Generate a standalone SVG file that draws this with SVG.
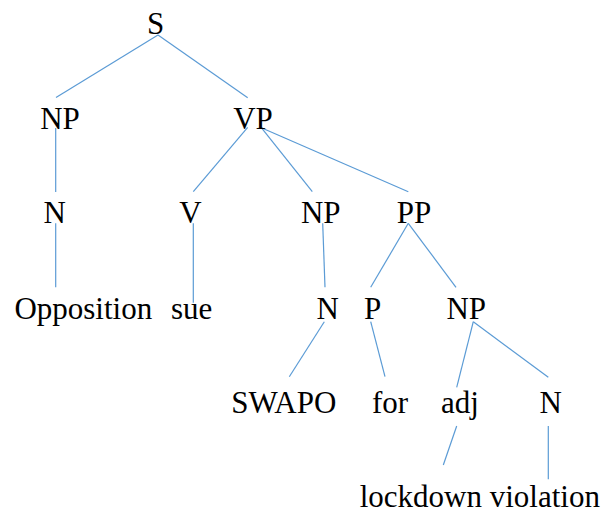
<svg xmlns="http://www.w3.org/2000/svg" width="608" height="513" viewBox="0 0 608 513">
<style>
text{font-family:'Liberation Serif','Tinos','Times New Roman','DejaVu Serif','Noto Serif',serif;font-size:31px;fill:#000;text-anchor:middle}
.c line{stroke:#5B9BD5;stroke-width:1.2;fill:none}
</style>
<rect width="608" height="513" fill="#fff"/>
<g class="c" id="connectors">
<line x1="158" y1="35" x2="56" y2="97.5"/>
<line x1="158" y1="35" x2="247.7" y2="97.7"/>
<line x1="55.7" y1="128" x2="55.7" y2="192"/>
<line x1="247.7" y1="127.3" x2="193.3" y2="191.7"/>
<line x1="261.3" y1="127.7" x2="312.3" y2="191.7"/>
<line x1="261.3" y1="127.7" x2="408.3" y2="191.7"/>
<line x1="55.7" y1="223.3" x2="55.7" y2="287.3"/>
<line x1="193.3" y1="223.3" x2="193.3" y2="302.7"/>
<line x1="322.7" y1="223.3" x2="325" y2="287.3"/>
<line x1="408.3" y1="223.3" x2="370.7" y2="287.3"/>
<line x1="408.3" y1="223.3" x2="456" y2="287.3"/>
<line x1="324.3" y1="321.7" x2="289.3" y2="376.7"/>
<line x1="370.7" y1="321.7" x2="385" y2="376.7"/>
<line x1="473.3" y1="321.7" x2="456.7" y2="387.3"/>
<line x1="473.3" y1="321.7" x2="548.3" y2="377.3"/>
<line x1="456.7" y1="426" x2="443.3" y2="465"/>
<line x1="548.3" y1="426" x2="548.3" y2="479.3"/>
</g>
<g font-family="Liberation Serif, serif">
<g id="n-S"><text x="155.5" y="34">S</text></g>
<g id="n-NP1"><text x="60" y="129">NP</text></g>
<g id="n-VP"><text x="253" y="129">VP</text></g>
<g id="n-N1"><text x="54.7" y="223">N</text></g>
<g id="n-V"><text x="190.5" y="223">V</text></g>
<g id="n-NP2"><text x="320.8" y="223">NP</text></g>
<g id="n-PP"><text x="414" y="223">PP</text></g>
<g id="n-Opposition"><text x="83.3" y="318.5">Opposition</text></g>
<g id="n-sue"><text x="191.7" y="318.5">sue</text></g>
<g id="n-N2"><text x="327.8" y="319">N</text></g>
<g id="n-P"><text x="372.5" y="319">P</text></g>
<g id="n-NP3"><text x="466.3" y="319">NP</text></g>
<g id="n-SWAPO"><text x="283.8" y="413.3">SWAPO</text></g>
<g id="n-for"><text x="390" y="413.3">for</text></g>
<g id="n-adj"><text x="460" y="413.3">adj</text></g>
<g id="n-N3"><text x="550.8" y="413.3">N</text></g>
<g id="n-lockdown-violation"><text x="479.8" y="506.7">lockdown violation</text></g>
</g>
</svg>
